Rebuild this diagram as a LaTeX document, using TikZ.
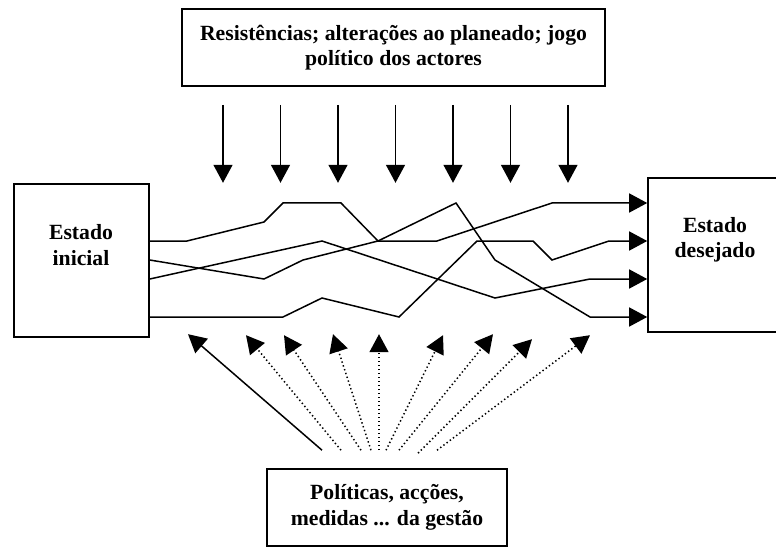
\documentclass[tikz,border=0pt]{standalone}
\usepackage{fontspec}
\setmainfont{Liberation Serif}
\usetikzlibrary{arrows.meta}

\begin{document}
\begin{tikzpicture}[
    x=1pt, y=-1pt,
    box/.style={rectangle, draw, line width=1.6pt, inner sep=0pt, align=center, font=\bfseries\fontsize{21.7}{25.5}\selectfont},
    lbl/.style={align=center, inner sep=0pt, font=\bfseries\fontsize{21.7}{25.5}\selectfont},
    arrow/.style={-{Triangle[length=18pt, width=19pt]}, line width=1.5pt},
    hint/.style={arrow, dash pattern=on 1.4pt off 2.6pt}
]
    \useasboundingbox (0,0) rectangle (776,548);

    % Top box (obstacles)
    \node[box, minimum width=423pt, minimum height=77pt] (res) at (393.5,47.5) {Resistências; alterações ao planeado; jogo\\político dos actores};

    % States
    \node[box, minimum width=135pt, minimum height=153pt] (init) at (81.5,260.5) {};
    \node[lbl] (initlbl) at (81,245) {Estado\\inicial};
    \node[box, minimum width=150pt, minimum height=154pt] (goal) at (723,255) {};
    \node[lbl] (goallbl) at (715,240) {Estado\\desejado};

    % Bottom box (management)
    \node[box, minimum width=240pt, minimum height=77pt] (pol) at (387,507.5) {Políticas, acções,\\medidas ... da gestão};

    % Paths from initial to desired state
    \draw[arrow] (init.east |- 0,241) -- (187,241) -- (264,222) -- (283,203) -- (341,203) -- (378,241) -- (437,241) -- (552,203) -- (goal.west |- 0,203);
    \draw[arrow] (init.east |- 0,260) -- (264,279) -- (303,260) -- (378,241) -- (456,203) -- (495,260) -- (590,317) -- (goal.west |- 0,317);
    \draw[arrow] (init.east |- 0,279) -- (322,241) -- (495,298) -- (590,279) -- (goal.west |- 0,279);
    \draw[arrow] (init.east |- 0,317) -- (283,317) -- (322,298) -- (399,317) -- (477,241) -- (533,241) -- (552,260) -- (609,241) -- (goal.west |- 0,241);

    % Pressure from above
    \draw[arrow] ([xshift=-170.5pt, yshift=-18pt]res.south) -- ++(0,78);
    \draw[arrow] ([xshift=-113pt, yshift=-18pt]res.south) -- ++(0,78);
    \draw[arrow] ([xshift=-55.5pt, yshift=-18pt]res.south) -- ++(0,78);
    \draw[arrow] ([xshift=2pt, yshift=-18pt]res.south) -- ++(0,78);
    \draw[arrow] ([xshift=59.5pt, yshift=-18pt]res.south) -- ++(0,78);
    \draw[arrow] ([xshift=117pt, yshift=-18pt]res.south) -- ++(0,78);
    \draw[arrow] ([xshift=174.5pt, yshift=-18pt]res.south) -- ++(0,78);

    % Steering from below
    \draw[arrow] ([xshift=-65pt, yshift=18pt]pol.north) -- ++(-134,-116);
    \draw[hint] ([xshift=-46pt, yshift=18pt]pol.north) -- ++(-95,-115);
    \draw[hint] ([xshift=-26pt, yshift=18pt]pol.north) -- ++(-77,-115);
    \draw[hint] ([xshift=-16pt, yshift=18pt]pol.north) -- ++(-38,-116);
    \draw[hint] ([xshift=-8pt, yshift=18pt]pol.north) -- ++(0,-116);
    \draw[hint] ([xshift=-1pt, yshift=18pt]pol.north) -- ++(57,-115);
    \draw[hint] ([xshift=12pt, yshift=18pt]pol.north) -- ++(94,-116);
    \draw[hint] ([xshift=31pt, yshift=15pt]pol.north) -- ++(114,-114);
    \draw[hint] ([xshift=50pt, yshift=18pt]pol.north) -- ++(153,-115);

\end{tikzpicture}
\end{document}
